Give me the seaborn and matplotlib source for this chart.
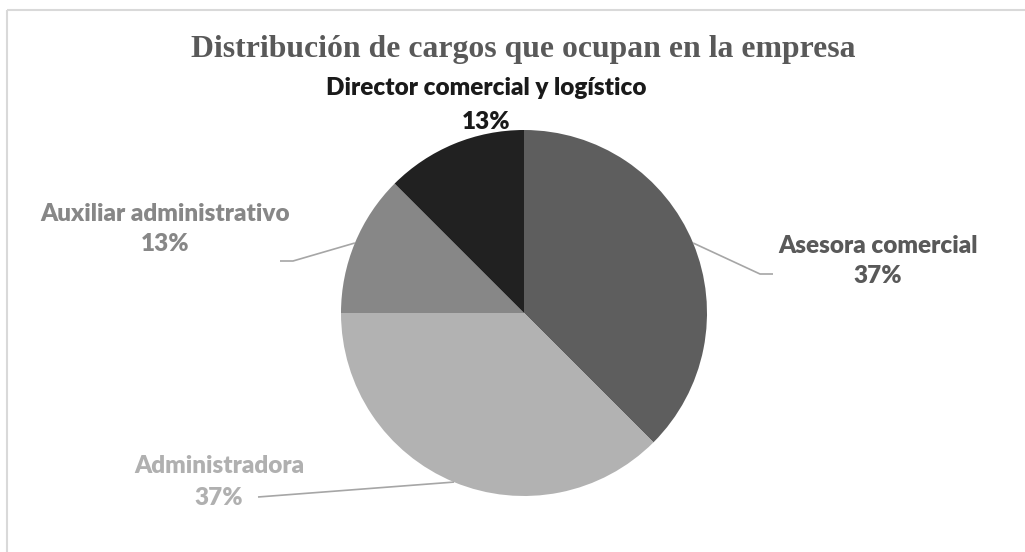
import numpy as np
import matplotlib
matplotlib.use("Agg")
import matplotlib.pyplot as plt
import seaborn as sns
from matplotlib.patches import Rectangle

# ---- data ----
categories = ["Asesora comercial", "Administradora", "Auxiliar administrativo",
              "Director comercial y logístico"]
values = [37.5, 37.5, 12.5, 12.5]
pct_labels = ["37%", "37%", "13%", "13%"]
slice_colors = ["#5e5e5e", "#b2b2b2", "#878787", "#212121"]
label_colors = ["#595959", "#b0b0b0", "#878787", "#1a1a1a"]
title = "Distribución de cargos que ocupan en la empresa"

sns.set_theme(style="white")
plt.rcParams['font.family'] = ['Lato', 'DejaVu Sans']

W, H = 1025, 552
fig = plt.figure(figsize=(W / 100, H / 100), dpi=100)
fig.patch.set_facecolor("white")

# pie geometry (pixels)
cx, cy, r = 524, 313, 183
ax = fig.add_axes([(cx - r) / W, (H - cy - r) / H, 2 * r / W, 2 * r / H])
wedges, _ = ax.pie(values, colors=slice_colors, startangle=90, counterclock=False,
                   radius=1.0, wedgeprops=dict(linewidth=0))
ax.set_xlim(-1, 1)
ax.set_ylim(-1, 1)
ax.set_aspect("equal")
ax.axis("off")

# overlay axes in pixel coordinates
ov = fig.add_axes([0, 0, 1, 1], zorder=5)
ov.set_xlim(0, W)
ov.set_ylim(H, 0)
ov.axis("off")
ov.patch.set_alpha(0)

# chart frame
ov.add_patch(Rectangle((7, 10), W + 20, H + 20, fill=False, edgecolor="#d9d9d9",
                       linewidth=1.5, clip_on=False))

ov.text(523.5, 49, title, ha="center", va="center", fontsize=22.9,
        fontweight="bold", family=["Liberation Serif"], color="#595959")

label_pos = [(878, 261), (219, 482), (165, 229), (486, 105)]
spacings = [1.45, 1.6, 1.45, 1.64]
for name, p, col, (lx, ly), ls in zip(categories, pct_labels, label_colors,
                                      label_pos, spacings):
    ov.text(lx, ly, f"{name}\n{p}", ha="center", va="center", fontsize=17.5,
            fontweight="heavy", color=col, linespacing=ls)

# leader lines
def edge_point(w):
    ang = np.deg2rad((w.theta1 + w.theta2) / 2)
    return cx + r * np.cos(ang), cy - r * np.sin(ang)

elbows = {0: [(760, 274), (773, 274)],
          1: [(258, 497)],
          2: [(293, 261), (280, 261)]}
for i, pts in elbows.items():
    x0, y0 = edge_point(wedges[i])
    xs = [x0] + [p[0] for p in pts]
    ys = [y0] + [p[1] for p in pts]
    ov.plot(xs, ys, color="#a6a6a6", linewidth=1.2, solid_capstyle="butt")

fig.savefig("out.png", dpi=100, facecolor="white")
